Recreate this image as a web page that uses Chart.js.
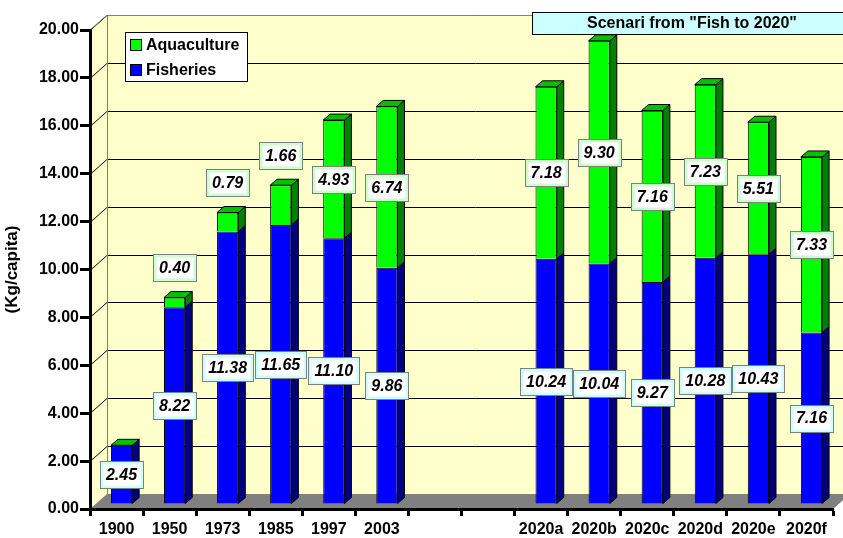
<!DOCTYPE html>
<html>
<head>
<meta charset="utf-8">
<script src="https://cdn.jsdelivr.net/npm/chart.js@4/dist/chart.umd.min.js"></script>
<style>
    html, body { margin: 0; padding: 0; background: #ffffff; }
    #wrap { position: relative; width: 843px; height: 538px; }
</style>
</head>
<body>
<div id="wrap"><canvas id="fishChart" width="843" height="538"></canvas></div>
<script>
// data
const categories = ['1900', '1950', '1973', '1985', '1997', '2003', '', '', '2020a', '2020b', '2020c', '2020d', '2020e', '2020f'];
const fisheries = [2.45, 8.22, 11.38, 11.65, 11.10, 9.86, null, null, 10.24, 10.04, 9.27, 10.28, 10.43, 7.16];
const aquaculture = [0, 0.40, 0.79, 1.66, 4.93, 6.74, null, null, 7.18, 9.30, 7.16, 7.23, 5.51, 7.33];
const yMin = 0;
const yMax = 20;
const yStep = 2;
const scenarioTitle = 'Scenari from "Fish to 2020"';
const yTitle = '(Kg/capita)';

const FONT = '"Liberation Sans", Arial, sans-serif';

// 3D look: wall depth and bar depth
const WALL_DX = 17, WALL_DY = -15;
const BAR_SHIFT_X = 5, BAR_SHIFT_Y = -5;
const BAR_DX = 7, BAR_DY = -6;

const faceColors = [
    { front: '#0000FF', side: '#000080', top: '#0000C0', tint: '#CCFFFF' },
    { front: '#00FF00', side: '#008000', top: '#00C000', tint: '#CCFFCC' }
];

function poly(ctx, pts, fill, stroke) {
    ctx.beginPath();
    ctx.moveTo(pts[0][0], pts[0][1]);
    for (let i = 1; i < pts.length; i++) ctx.lineTo(pts[i][0], pts[i][1]);
    ctx.closePath();
    if (fill) { ctx.fillStyle = fill; ctx.fill(); }
    if (stroke) { ctx.strokeStyle = stroke; ctx.lineWidth = 1; ctx.stroke(); }
}

function labelBox(ctx, text, cx, cy, tint) {
    ctx.font = 'italic bold 16px ' + FONT;
    const w = Math.round(ctx.measureText(text).width) + 12;
    const h = 27;
    const x = Math.round(cx - w / 2) + 0.5;
    const y = Math.round(cy - h / 2) + 0.5;
    ctx.fillStyle = tint;
    ctx.fillRect(x, y, w, h);
    ctx.fillStyle = '#ffffff';
    ctx.fillRect(x + 3, y + 3, w - 6, h - 6);
    ctx.strokeStyle = '#7f7f7f';
    ctx.lineWidth = 1;
    ctx.strokeRect(x, y, w, h);
    ctx.fillStyle = '#000000';
    ctx.textAlign = 'center';
    ctx.textBaseline = 'middle';
    ctx.fillText(text, cx, cy + 1);
}

const threeDPlugin = {
    id: 'threeD',
    beforeDraw(chart) {
        const ctx = chart.ctx;
        const a = chart.chartArea;
        const yScale = chart.scales.y;
        ctx.save();
        // side wall and back wall
        poly(ctx, [[a.left, a.bottom], [a.left, a.top], [a.left + WALL_DX, a.top + WALL_DY], [a.left + WALL_DX, a.bottom + WALL_DY]], '#FFFFCC');
        ctx.fillStyle = '#FFFFCC';
        ctx.fillRect(a.left + WALL_DX, a.top + WALL_DY, a.right - a.left + 20, a.bottom - a.top);
        // grid lines on the walls
        ctx.strokeStyle = '#000000';
        ctx.lineWidth = 1;
        for (let v = yMin + yStep; v <= yMax; v += yStep) {
            const y = Math.round(yScale.getPixelForValue(v)) + 0.5;
            ctx.beginPath();
            ctx.moveTo(a.left, y);
            ctx.lineTo(a.left + WALL_DX, y + WALL_DY);
            ctx.lineTo(a.right + WALL_DX + 20, y + WALL_DY);
            ctx.stroke();
        }
        // wall edges
        ctx.strokeStyle = '#808080';
        ctx.beginPath();
        ctx.moveTo(a.left + WALL_DX + 0.5, a.bottom + WALL_DY);
        ctx.lineTo(a.left + WALL_DX + 0.5, a.top + WALL_DY + 0.5);
        ctx.lineTo(a.right + WALL_DX + 20, a.top + WALL_DY + 0.5);
        ctx.moveTo(a.left, a.top);
        ctx.lineTo(a.left + WALL_DX, a.top + WALL_DY);
        ctx.stroke();
        // floor
        poly(ctx, [[a.left, a.bottom], [a.right, a.bottom], [a.right + WALL_DX, a.bottom + WALL_DY], [a.left + WALL_DX, a.bottom + WALL_DY]], '#808080');
        ctx.restore();
    },
    beforeDatasetsDraw(chart) {
        chart.ctx.save();
        chart.ctx.translate(BAR_SHIFT_X, BAR_SHIFT_Y);
    },
    afterDatasetsDraw(chart) {
        const ctx = chart.ctx;
        const metas = chart.data.datasets.map((ds, i) => chart.getDatasetMeta(i));
        const n = chart.data.labels.length;
        // side and top faces
        for (let j = 0; j < n; j++) {
            let last = -1;
            metas.forEach((meta, i) => {
                const v = chart.data.datasets[i].data[j];
                if (v === null || v === undefined) return;
                const el = meta.data[j];
                const r = el.x + el.width / 2;
                poly(ctx, [[r, el.y], [r + BAR_DX, el.y + BAR_DY], [r + BAR_DX, el.base + BAR_DY], [r, el.base]], faceColors[i].side, '#000000');
                last = i;
            });
            if (last >= 0) {
                const el = metas[last].data[j];
                const l = el.x - el.width / 2;
                const r = el.x + el.width / 2;
                poly(ctx, [[l, el.y], [r, el.y], [r + BAR_DX, el.y + BAR_DY], [l + BAR_DX, el.y + BAR_DY]], faceColors[last].top, '#000000');
            }
        }
        // value labels
        metas.forEach((meta, i) => {
            chart.data.datasets[i].data.forEach((v, j) => {
                if (!v) return;
                const el = meta.data[j];
                const h = el.base - el.y;
                const cy = h < 50 ? el.y - 30 : (el.y + el.base) / 2;
                labelBox(ctx, v.toFixed(2), el.x, cy, faceColors[i].tint);
            });
        });
        ctx.restore();
    },
    afterDraw(chart) {
        const ctx = chart.ctx;
        ctx.save();
        // legend box, top series first
        ctx.fillStyle = '#ffffff';
        ctx.fillRect(125.5, 32.5, 122, 49);
        ctx.strokeStyle = '#000000';
        ctx.lineWidth = 1;
        ctx.strokeRect(125.5, 32.5, 122, 49);
        ctx.font = 'bold 16px ' + FONT;
        ctx.textAlign = 'left';
        ctx.textBaseline = 'middle';
        const order = chart.data.datasets.map((d, i) => i).reverse();
        order.forEach((i, k) => {
            const y = 45 + k * 25;
            ctx.fillStyle = chart.data.datasets[i].backgroundColor;
            ctx.fillRect(130.5, y - 5.5, 11, 11);
            ctx.strokeRect(130.5, y - 5.5, 11, 11);
            ctx.fillStyle = '#000000';
            ctx.fillText(chart.data.datasets[i].label, 146, y + 1);
        });
        // scenario caption
        ctx.fillStyle = '#CCFFFF';
        ctx.fillRect(532.5, 12.5, 330, 22);
        ctx.strokeRect(532.5, 12.5, 330, 22);
        ctx.fillStyle = '#000000';
        ctx.textAlign = 'center';
        ctx.fillText(scenarioTitle, 692, 24);
        ctx.restore();
    }
};

const canvas = document.getElementById('fishChart');
const ctx = canvas.getContext('2d');

new Chart(ctx, {
    type: 'bar',
    data: {
        labels: categories,
        datasets: [
            {
                label: 'Fisheries',
                data: fisheries,
                backgroundColor: faceColors[0].front,
                borderColor: '#000000',
                borderWidth: 1,
                barPercentage: 0.4,
                categoryPercentage: 1
            },
            {
                label: 'Aquaculture',
                data: aquaculture,
                backgroundColor: faceColors[1].front,
                borderColor: '#000000',
                borderWidth: 1,
                barPercentage: 0.4,
                categoryPercentage: 1
            }
        ]
    },
    options: {
        responsive: false,
        animation: false,
        events: [],
        layout: { padding: { top: 30, right: 10, bottom: 0, left: 0 } },
        plugins: {
            legend: { display: false },
            tooltip: { enabled: false }
        },
        scales: {
            x: {
                stacked: true,
                grid: { display: true, drawOnChartArea: false, drawTicks: true, tickLength: 7, tickWidth: 3, tickColor: '#000000', offset: true },
                border: { display: true, color: '#000000', width: 3 },
                ticks: { color: '#000000', font: { family: FONT, size: 16, weight: 'bold' }, padding: 4, maxRotation: 0, autoSkip: false },
                afterFit: s => { s.height = 29; }
            },
            y: {
                stacked: true,
                min: yMin,
                max: yMax,
                grid: { display: true, drawOnChartArea: false, drawTicks: true, tickLength: 10, tickWidth: 3, tickColor: '#000000' },
                border: { display: true, color: '#000000', width: 3 },
                ticks: {
                    stepSize: yStep,
                    color: '#000000',
                    padding: 1,
                    font: { family: FONT, size: 16, weight: 'bold' },
                    callback: v => v.toFixed(2)
                },
                title: { display: true, text: yTitle, color: '#000000', font: { family: FONT, size: 17, weight: 'bold' }, padding: 2 },
                afterFit: s => { s.width = 90; }
            }
        }
    },
    plugins: [threeDPlugin]
});
</script>
</body>
</html>
